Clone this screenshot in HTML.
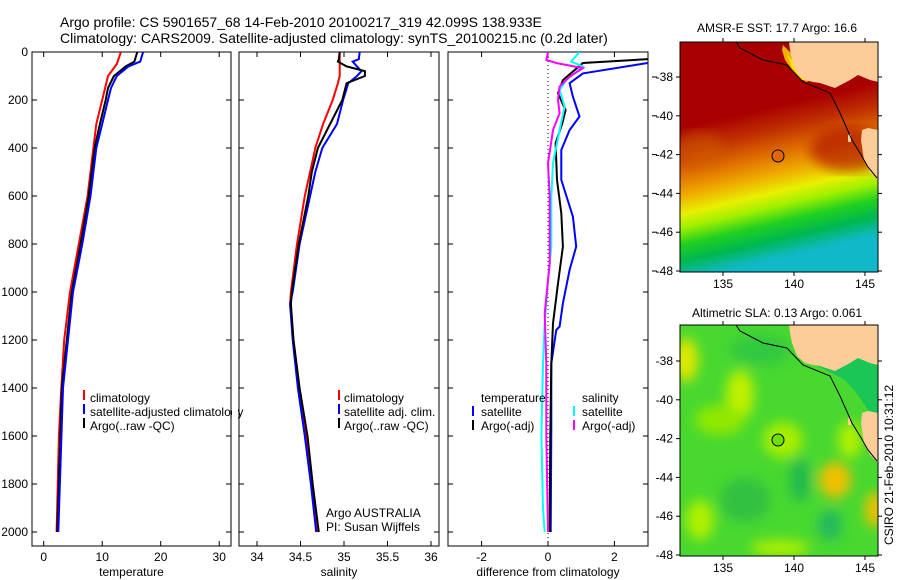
<!DOCTYPE html>
<html><head><meta charset="utf-8"><title>Argo profile</title>
<style>
html,body{margin:0;padding:0;background:#fff;}
svg{display:block;font-family:"Liberation Sans",sans-serif;}
text{font-size:12px;fill:#000;}
</style></head>
<body>
<svg id="fig" width="900" height="580" viewBox="0 0 900 580" xmlns="http://www.w3.org/2000/svg">
<defs>
<clipPath id="c1"><rect x="32" y="52" width="199" height="494"/></clipPath>
<clipPath id="c2"><rect x="239" y="52" width="200" height="494"/></clipPath>
<clipPath id="c3"><rect x="448" y="52" width="200" height="494"/></clipPath>
<clipPath id="cm1"><rect x="680" y="42" width="198" height="230"/></clipPath>
<clipPath id="cm2"><rect x="680" y="325" width="198" height="231"/></clipPath>
<linearGradient id="sst" x1="0" y1="0" x2="0.2" y2="1">
<stop offset="0" stop-color="#a80000"/>
<stop offset="0.36" stop-color="#a80000"/>
<stop offset="0.46" stop-color="#c03000"/>
<stop offset="0.56" stop-color="#e07000"/>
<stop offset="0.65" stop-color="#f0b000"/>
<stop offset="0.72" stop-color="#e8f000"/>
<stop offset="0.78" stop-color="#a0f000"/>
<stop offset="0.85" stop-color="#20d020"/>
<stop offset="0.92" stop-color="#00b850"/>
<stop offset="1" stop-color="#10b8c8"/>
</linearGradient>
<filter id="blur"><feGaussianBlur stdDeviation="6"/></filter>
</defs>

<text x="60" y="27" style="font-size:14px">Argo profile: CS 5901657_68 14-Feb-2010 20100217_319 42.099S 138.933E</text>
<text x="60" y="43" style="font-size:14px">Climatology: CARS2009. Satellite-adjusted climatology: synTS_20100215.nc (0.2d later)</text>

<g id="axes"></g>
<g id="lines"></g>

<g>
<rect x="83" y="390" width="2" height="10" fill="#f00"/><text x="90" y="402">climatology</text>
<rect x="83" y="404" width="2" height="10" fill="#00f"/><text x="90" y="416">satellite-adjusted climatology</text>
<rect x="83" y="418" width="2" height="10" fill="#000"/><text x="90" y="430">Argo(..raw -QC)</text>
</g>
<rect x="232" y="380" width="6" height="60" fill="#fff"/>
<g>
<rect x="338" y="390" width="2" height="10" fill="#f00"/><text x="344" y="402">climatology</text>
<rect x="338" y="404" width="2" height="10" fill="#00f"/><text x="344" y="416">satellite adj. clim.</text>
<rect x="338" y="418" width="2" height="10" fill="#000"/><text x="344" y="430">Argo(..raw -QC)</text>
</g>
<text x="326" y="517">Argo AUSTRALIA</text>
<text x="326" y="531">PI: Susan Wijffels</text>
<g>
<text x="481" y="402">temperature</text>
<rect x="472" y="406" width="2" height="10" fill="#00f"/><text x="481" y="416">satellite</text>
<rect x="472" y="420" width="2" height="10" fill="#000"/><text x="481" y="430">Argo(-adj)</text>
<text x="582" y="402">salinity</text>
<rect x="573" y="406" width="2" height="10" fill="#0ff"/><text x="582" y="416">satellite</text>
<rect x="573" y="420" width="2" height="10" fill="#f0f"/><text x="582" y="430">Argo(-adj)</text>
</g>

<!-- SST map -->
<text x="777" y="32" text-anchor="middle">AMSR-E SST: 17.7 Argo: 16.6</text>
<g clip-path="url(#cm1)">
<rect x="680" y="42" width="198" height="230" fill="url(#sst)"/>
<ellipse cx="850" cy="150" rx="40" ry="22" fill="#a80000" opacity="0.6" filter="url(#blur)"/>
<ellipse cx="700" cy="150" rx="25" ry="18" fill="#d06000" opacity="0.5" filter="url(#blur)"/>
<polygon points="783,45 790,52 800,68 812,80 806,82 795,74 785,60 782,50" fill="#f0b000"/>
<polygon points="787,54 796,66 808,80 802,80 792,68" fill="#ffe000"/>
<polygon points="789,42 878,42 878,82 870,80 858,75 850,80 835,88 820,83 813,82 805,80 797,73 792,60 790,50" fill="#fccc99"/>
<polygon points="862,130 868,128 878,130 878,180 870,172 864,160 861,140" fill="#fccc99"/>
<polygon points="848,135 851,134 851,142 848,142" fill="#fccc99"/>
<polyline points="736,42 740,48 763,60 787,65 803,82 830,93 840,113 852,140 860,153 868,167 877,178" fill="none" stroke="#000" stroke-width="1"/>
<circle cx="778" cy="156" r="6" fill="#e06a00" stroke="#000" stroke-width="1"/>
</g>
<rect x="680" y="42" width="198" height="230" fill="none" stroke="#000"/>

<!-- SLA map -->
<text x="777" y="317" text-anchor="middle">Altimetric SLA: 0.13 Argo: 0.061</text>
<g clip-path="url(#cm2)">
<rect x="680" y="325" width="198" height="231" fill="#48d830"/>
<g filter="url(#blur)">
<ellipse cx="686" cy="360" rx="12" ry="22" fill="#e0e800"/>
<ellipse cx="740" cy="395" rx="14" ry="25" fill="#c0f000"/>
<ellipse cx="783" cy="440" rx="20" ry="18" fill="#a8ee00"/>
<ellipse cx="720" cy="420" rx="25" ry="15" fill="#90e800"/>
<ellipse cx="835" cy="480" rx="16" ry="18" fill="#f0c000"/>
<ellipse cx="875" cy="510" rx="10" ry="18" fill="#f0c000"/>
<ellipse cx="800" cy="480" rx="10" ry="22" fill="#20b850"/>
<ellipse cx="745" cy="500" rx="25" ry="22" fill="#30c040"/>
<ellipse cx="830" cy="525" rx="12" ry="15" fill="#20b860"/>
<ellipse cx="780" cy="548" rx="30" ry="8" fill="#b0f000"/>
<ellipse cx="850" cy="440" rx="12" ry="18" fill="#b0f000"/>
<ellipse cx="700" cy="520" rx="14" ry="20" fill="#b0f000"/>
<ellipse cx="760" cy="350" rx="30" ry="15" fill="#30c840"/>
</g>
<polygon points="795,340 878,340 878,420 868,410 858,395 845,380 830,372 815,365 800,352" fill="#10c060" opacity="0.8"/>
<polygon points="789,325 878,325 878,365 870,363 858,358 850,363 835,371 820,366 813,365 805,363 797,356 792,343 790,333" fill="#fccc99"/>
<polygon points="862,413 868,411 878,413 878,463 870,455 864,443 861,423" fill="#fccc99"/>
<polygon points="848,418 851,417 851,425 848,425" fill="#fccc99"/>
<polyline points="736,325 740,331 763,343 787,348 803,365 830,376 840,396 852,423 860,436 868,450 877,461" fill="none" stroke="#000" stroke-width="1"/>
<circle cx="778" cy="440" r="6" fill="#70e000" stroke="#000" stroke-width="1"/>
</g>
<rect x="680" y="325" width="198" height="231" fill="none" stroke="#000"/>
<g id="mapticks"></g>
<text transform="translate(893,465) rotate(-90)" text-anchor="middle">CSIRO 21-Feb-2010 10:31:12</text>

<script>
// ---- data ----
const depthTclim = [0,50,100,200,300,400,600,800,1000,1200,1400,1600,2000];
const tempClim   = [13.2,12.5,11,10,9,8.5,7.5,6,4.5,3.5,3,2.6,2.2];
const depthTargo = [0,40,60,100,150,200,300,400,600,800,1000,1400,2000];
const tempArgo   = [16,15.5,14,12,11,10.6,9.6,8.7,7.7,6.3,4.8,3.1,2.3];
const tempSat    = [17,16.5,14.5,12.5,11.5,11,10,9,8,6.6,5,3.3,2.5];
const depthS     = [0,30,40,60,80,100,130,200,300,400,500,600,800,1000,1050,1200,1400,1600,1800,2000];
const salClim    = [34.95,34.95,34.95,34.95,34.95,34.95,34.93,34.87,34.76,34.67,34.61,34.55,34.46,34.39,34.38,34.42,34.48,34.57,34.63,34.7];
const salArgo    = [34.95,34.94,34.93,35.03,35.24,35.24,35.03,34.98,34.84,34.7,34.63,34.59,34.48,34.4,34.39,34.42,34.49,34.58,34.64,34.71];
const salSat     = [35.18,35.17,35.1,35.15,35.2,35.15,35.05,34.99,34.92,34.75,34.67,34.61,34.49,34.41,34.38,34.41,34.47,34.55,34.62,34.68];
const depthDT    = [0,20,29,46,117,172,242,297,380,533,672,811,964,1131,1300,1600,2000];
const diffTArgo  = [3.5,3.4,3.1,1.05,0.45,0.3,0.53,0.43,0.23,0.27,0.4,0.45,0.3,0.15,0.1,0.07,0.05];
const depthDTs   = [0,30,46,89,130,186,269,325,408,533,686,811,908,1047,1144,1158,1297,1575,2000];
const diffTSat   = [3.8,3.4,3,1.05,0.65,0.75,0.95,0.65,0.4,0.4,0.75,0.85,0.65,0.45,0.35,0.25,0.1,0.1,0.08];
const depthDS    = [0,40,60,117,158,228,325,464,603,811,950,1131,1300,1600,1900,2000];
const diffSSat   = [0.95,0.7,1.05,0.55,0.35,0.5,0.35,0.15,0.1,0.1,0,-0.1,-0.15,-0.2,-0.15,-0.1];
const depthDSa   = [0,33,46,67,103,144,200,255,325,464,603,880,1089,1300,1600,2000];
const diffSArgo  = [0,-0.05,0.25,1.05,0.65,0.35,0.3,0.35,0.15,0,0.05,0.05,-0.1,-0.05,-0.05,0];
const depthTicks = [0,200,400,600,800,1000,1200,1400,1600,1800,2000];
const tempTicks  = [0,10,20,30];
const salTicks   = [34,34.5,35,35.5,36];
const salTickLabels = ["34","34.5","35","35.5","36"];
const diffTicks  = [-2,0,2];
const latTicks   = [-38,-40,-42,-44,-46,-48];
const lonTicks   = [135,140,145];

// ---- scales ----
const yD = d => 52 + d*0.24;
const xT = v => 43.7 + v*5.85;
const xS = v => 257 + (v-34)*87;
const xD = v => 548 + v*33.2;
const xLon = v => 723 + (v-135)*14.2;
const yLat1 = v => 77 + (-38 - v)*19.4;
const yLat2 = v => 361 + (-38 - v)*19.4;

const NS = "http://www.w3.org/2000/svg";
function mk(tag, attrs, parent){
  const e = document.createElementNS(NS, tag);
  for (const k in attrs) e.setAttribute(k, attrs[k]);
  parent.appendChild(e); return e;
}
const axes = document.getElementById('axes');
const lines = document.getElementById('lines');

const panels = [
  {x0:32,x1:231,ticks:tempTicks,labels:tempTicks.map(String),sx:xT,label:"temperature",name:"temperature-panel"},
  {x0:239,x1:439,ticks:salTicks,labels:salTickLabels,sx:xS,label:"salinity",name:"salinity-panel"},
  {x0:448,x1:648,ticks:diffTicks,labels:diffTicks.map(String),sx:xD,label:"difference from climatology",name:"difference-panel"}
];
panels.forEach((p,i)=>{
  const g = mk('g',{},axes);
  
  
  mk('rect',{x:p.x0,y:52,width:p.x1-p.x0,height:494,fill:'none',stroke:'#000','stroke-width':1},g);
  depthTicks.forEach(d=>{
    mk('line',{x1:p.x0,x2:p.x0+5,y1:yD(d),y2:yD(d),stroke:'#000'},g);
    mk('line',{x1:p.x1,x2:p.x1-5,y1:yD(d),y2:yD(d),stroke:'#000'},g);
    if(i===0){
      const t = mk('text',{x:28,y:yD(d)+4,'text-anchor':'end'},g);
      t.textContent = d;
    }
  });
  p.ticks.forEach((v,j)=>{
    const x = p.sx(v);
    mk('line',{x1:x,x2:x,y1:52,y2:57,stroke:'#000'},g);
    mk('line',{x1:x,x2:x,y1:546,y2:541,stroke:'#000'},g);
    const t = mk('text',{x:x,y:561,'text-anchor':'middle'},g);
    t.textContent = p.labels[j];
  });
  const lt = mk('text',{x:(p.x0+p.x1)/2,y:576,'text-anchor':'middle'},g);
  lt.textContent = p.label;
});
const zl = mk('line',{x1:xD(0),x2:xD(0),y1:53,y2:545,stroke:'#000','stroke-dasharray':'1,3'},axes);



function series(xs, ds, sx, color, clip, name){
  const pts = xs.map((v,i)=> sx(v).toFixed(1)+','+yD(ds[i]).toFixed(1)).join(' ');
  const pl = mk('polyline',{points:pts,fill:'none',stroke:color,'stroke-width':2,'clip-path':'url(#'+clip+')'},lines);
  
  
}
series(tempClim, depthTclim, xT, '#f00', 'c1', 'temp-climatology-line');
series(tempArgo, depthTargo, xT, '#000', 'c1', 'temp-argo-line');
series(tempSat, depthTargo, xT, '#00f', 'c1', 'temp-satellite-line');
series(salClim, depthS, xS, '#f00', 'c2', 'sal-climatology-line');
series(salSat, depthS, xS, '#00f', 'c2', 'sal-satellite-line');
series(salArgo, depthS, xS, '#000', 'c2', 'sal-argo-line');
series(diffTSat, depthDTs, xD, '#00f', 'c3', 'diff-temp-satellite-line');
series(diffTArgo, depthDT, xD, '#000', 'c3', 'diff-temp-argo-line');
series(diffSSat, depthDS, xD, '#0ff', 'c3', 'diff-sal-satellite-line');
series(diffSArgo, depthDSa, xD, '#f0f', 'c3', 'diff-sal-argo-line');

// map ticks
const mt = document.getElementById('mapticks');
[[yLat1,42,272],[yLat2,325,556]].forEach(([yl,top,bot],m)=>{
  latTicks.forEach(v=>{
    const y = yl(v);
    mk('line',{x1:680,x2:676,y1:y,y2:y,stroke:'#000'},mt);
    mk('line',{x1:878,x2:882,y1:y,y2:y,stroke:'#000'},mt);
    if(m===0) mk('line',{x1:652,x2:657,y1:y,y2:y,stroke:'#000'},mt);
    const t = mk('text',{x:673,y:y+4,'text-anchor':'end'},mt);
    
    
    t.textContent = v;
  });
  lonTicks.forEach(v=>{
    const x = xLon(v);
    mk('line',{x1:x,x2:x,y1:top,y2:top-4,stroke:'#000'},mt);
    mk('line',{x1:x,x2:x,y1:bot,y2:bot+4,stroke:'#000'},mt);
    const t = mk('text',{x:x,y:bot+16,'text-anchor':'middle'},mt);
    
    
    t.textContent = v;
  });
});
</script>
</svg>
</body></html>
